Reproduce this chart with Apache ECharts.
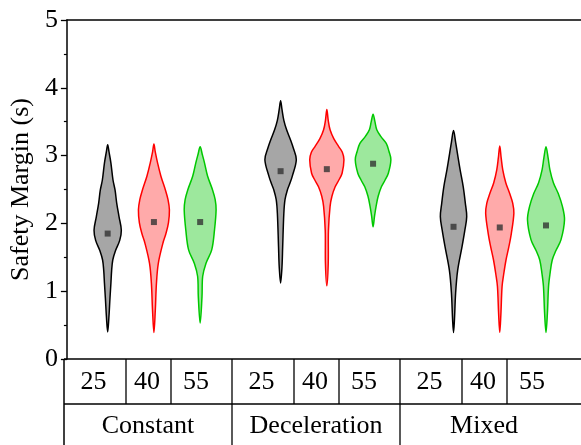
<!DOCTYPE html>
<html>
<head>
<meta charset="utf-8">
<script src="https://cdn.jsdelivr.net/npm/echarts@6/dist/echarts.min.js"></script>
<style>html,body{margin:0;padding:0;background:#fff;}#c{width:581px;height:445px;}</style>
</head>
<body>
<div id="c"></div>
<script>
// ---- data ----
const groups = ['Constant', 'Deceleration', 'Mixed'];
const speeds = ['25', '40', '55'];
const yTicks = [0, 1, 2, 3, 4, 5];
// mean markers per group (25, 40, 55)
const meanConstant = [1.85, 2.02, 2.02];
const meanDeceleration = [2.77, 2.80, 2.88];
const meanMixed = [1.95, 1.94, 1.97];
// violin outlines: [value, relative density width]
const violinC25 = [[0.40,0],[0.6,.05],[0.9,.10],[1.12,.14],[1.3,.17],[1.46,.22],[1.6,.34],[1.75,.52],[1.90,.59],[2.10,.49],[2.30,.39],[2.49,.32],[2.64,.23],[2.89,.14],[3.05,.06],[3.16,0]];
const violinC40 = [[0.39,0],[0.72,.06],[1.12,.11],[1.41,.19],[1.71,.39],[1.85,.52],[2.01,.63],[2.20,.67],[2.35,.61],[2.49,.50],[2.7,.30],[2.89,.16],[3.05,.06],[3.17,0]];
const violinC55 = [[0.53,0],[0.92,.08],[1.22,.11],[1.41,.25],[1.61,.50],[1.90,.62],[2.20,.69],[2.35,.65],[2.49,.54],[2.7,.32],[2.89,.19],[3.02,.09],[3.13,0]];
const violinD25 = [[1.12,0],[1.36,.06],[1.66,.09],[2.15,.14],[2.35,.19],[2.49,.29],[2.58,.39],[2.69,.50],[2.94,.68],[3.1,.56],[3.23,.43],[3.38,.26],[3.52,.14],[3.68,.06],[3.81,0]];
const violinD40 = [[1.08,0],[1.41,.06],[1.90,.07],[2.25,.14],[2.40,.22],[2.54,.36],[2.64,.52],[2.74,.66],[2.94,.74],[3.05,.67],[3.13,.52],[3.25,.30],[3.38,.14],[3.52,.06],[3.68,0]];
const violinD55 = [[1.95,0],[2.1,.06],[2.25,.13],[2.40,.22],[2.54,.36],[2.64,.52],[2.74,.66],[2.94,.77],[3.06,.69],[3.18,.57],[3.28,.34],[3.38,.16],[3.5,.08],[3.61,0]];
const violinM25 = [[0.39,0],[0.58,.04],[0.97,.09],[1.31,.18],[1.66,.37],[1.9,.49],[2.10,.57],[2.3,.51],[2.54,.42],[2.8,.28],[3.03,.17],[3.2,.09],[3.37,0]];
const violinM40 = [[0.39,0],[0.67,.05],[1.07,.10],[1.25,.17],[1.46,.27],[1.65,.39],[1.85,.50],[2.15,.61],[2.3,.56],[2.44,.43],[2.6,.26],[2.79,.13],[2.97,.06],[3.14,0]];
const violinM55 = [[0.39,0],[0.67,.06],[1.07,.11],[1.25,.17],[1.46,.27],[1.6,.43],[1.76,.65],[2.05,.80],[2.25,.71],[2.44,.53],[2.6,.32],[2.79,.17],[2.97,.09],[3.13,0]];

// ---- build ----
const meansAll = [meanConstant, meanDeceleration, meanMixed];
const violinsAll = [[violinC25, violinC40, violinC55], [violinD25, violinD40, violinD55], [violinM25, violinM40, violinM55]];
const GROUP_STEP = 3.74;
const strokes = ['#000000', '#ff0000', '#00c800'];
const fills = ['#a6a6a6', '#ffaaaa', '#9de89d'];
const FONT = '"Liberation Serif", "Times New Roman", serif';

const items = [];
groups.forEach((g, gi) => {
  speeds.forEach((s, si) => {
    items.push({ pos: gi * GROUP_STEP + si, mean: meansAll[gi][si], profile: violinsAll[gi][si], color: si });
  });
});

const chart = echarts.init(document.getElementById('c'), null, { renderer: 'canvas' });

// table layout (axis decoration)
const L = 64, GW = 168, TOP = 359, MID = 404, BOT = 445, RIGHT = 581;
const cellLines = [62, 107];
const labelOffsets = [29.5, 83, 132];
const graphics = [];
const lineStyle = { stroke: '#000', lineWidth: 1.3 };
graphics.push({ type: 'line', shape: { x1: L, y1: TOP, x2: RIGHT, y2: TOP }, style: { stroke: '#000', lineWidth: 1.5 }, z: 10 });
graphics.push({ type: 'line', shape: { x1: L, y1: MID, x2: RIGHT, y2: MID }, style: lineStyle, z: 10 });
graphics.push({ type: 'line', shape: { x1: L, y1: TOP, x2: L, y2: BOT }, style: { stroke: '#000', lineWidth: 1.5 }, z: 10 });
groups.forEach((g, gi) => {
  const gl = L + gi * GW;
  if (gi > 0) graphics.push({ type: 'line', shape: { x1: gl, y1: TOP, x2: gl, y2: BOT }, style: lineStyle, z: 10 });
  cellLines.forEach(c => graphics.push({ type: 'line', shape: { x1: gl + c, y1: TOP, x2: gl + c, y2: MID }, style: lineStyle, z: 10 }));
  speeds.forEach((s, si) => graphics.push({ type: 'text', z: 10, style: { text: s, x: gl + labelOffsets[si], y: (TOP + MID) / 2 + 1, textAlign: 'center', textVerticalAlign: 'middle', font: '26px ' + FONT, fill: '#000' } }));
  graphics.push({ type: 'text', z: 10, style: { text: g, x: gl + GW / 2, y: (MID + BOT) / 2 + 2, textAlign: 'center', textVerticalAlign: 'middle', font: '26px ' + FONT, fill: '#000' } });
});

const option = {
  animation: false,
  backgroundColor: '#fff',
  grid: { left: 64, right: 0, top: 20, bottom: 86, containLabel: false },
  xAxis: [
    { type: 'value', min: -0.882, max: 10.237, axisLine: { show: false }, axisTick: { show: false }, axisLabel: { show: false }, splitLine: { show: false } },
    { type: 'value', position: 'top', min: -0.882, max: 10.237, axisLine: { show: true, onZero: false, lineStyle: { color: '#000', width: 1.5 } }, axisTick: { show: false }, axisLabel: { show: false }, splitLine: { show: false } }
  ],
  yAxis: {
    type: 'value', min: yTicks[0], max: yTicks[yTicks.length - 1], interval: 1,
    name: 'Safety Margin (s)', nameLocation: 'middle', nameGap: 31,
    nameTextStyle: { fontFamily: FONT, fontSize: 26, color: '#000' },
    axisLine: { show: true, onZero: false, lineStyle: { color: '#000', width: 1.5 } },
    axisTick: { show: true, length: 6, lineStyle: { color: '#000', width: 1.3 } },
    minorTick: { show: true, splitNumber: 2, length: 3, lineStyle: { color: '#000', width: 1.2 } },
    axisLabel: { fontFamily: FONT, fontSize: 26, color: '#000', margin: 9 },
    splitLine: { show: false }
  },
  graphic: graphics,
  series: [
    {
      type: 'custom',
      xAxisIndex: 0,
      data: items.map(it => [it.pos, it.mean]),
      renderItem: function (params, api) {
        const it = items[params.dataIndex];
        const x = api.value(0);
        const right = it.profile.map(p => api.coord([x + p[1] / 2, p[0]]));
        const left = it.profile.slice().reverse().map(p => api.coord([x - p[1] / 2, p[0]]));
        const pts = right.concat(left.slice(1, left.length - 1));
        return {
          type: 'polygon',
          shape: { points: pts, smooth: 0.35 },
          style: { fill: fills[it.color], stroke: strokes[it.color], lineWidth: 1.5 }
        };
      },
      z: 2
    },
    {
      type: 'scatter',
      data: items.map(it => [it.pos, it.mean]),
      symbol: 'rect', symbolSize: 6,
      itemStyle: { color: '#333' },
      z: 5
    }
  ]
};
chart.setOption(option);
</script>
</body>
</html>
